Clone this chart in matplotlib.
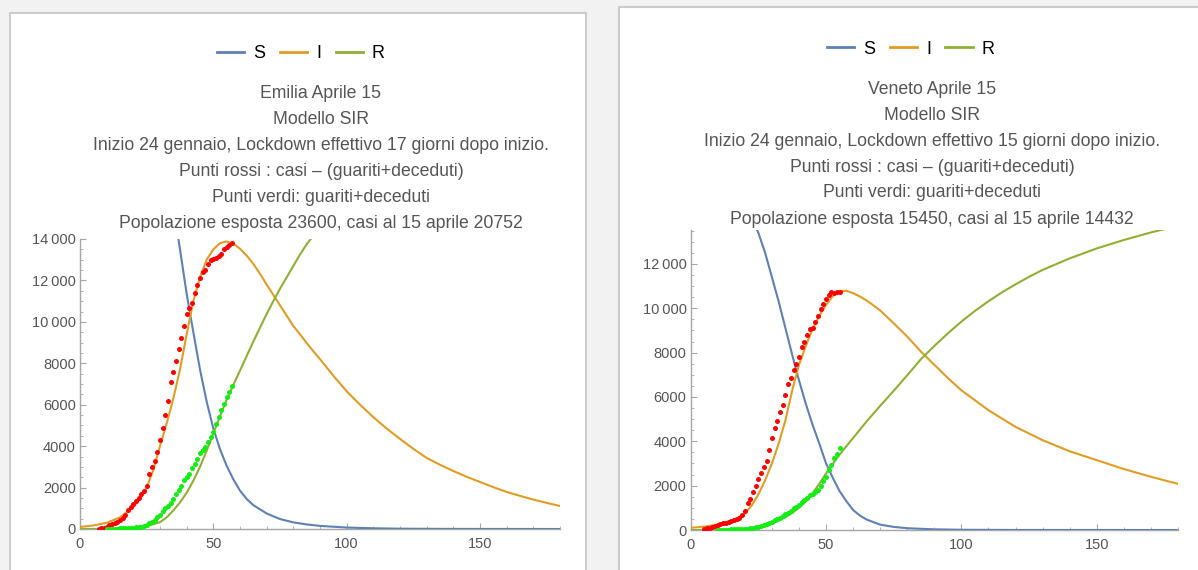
import matplotlib.pyplot as plt
from matplotlib.patches import Rectangle
from matplotlib.lines import Line2D
from matplotlib.ticker import MultipleLocator, FuncFormatter

plt.rcParams['font.family'] = ['Liberation Sans', 'DejaVu Sans']

W, H = 1198, 570

# ---------------- Emilia ----------------
emilia_title = ["Emilia Aprile 15",
                "Modello SIR",
                "Inizio 24 gennaio, Lockdown effettivo 17 giorni dopo inizio.",
                "Punti rossi : casi \u2013 (guariti+deceduti)",
                "Punti verdi: guariti+deceduti",
                "Popolazione esposta 23600, casi al 15 aprile 20752"]

emilia_s_t = [0, 10, 15, 20, 25, 27.5, 30, 32.5, 35, 37.5, 40, 42.5, 45, 47.5, 50, 52.5, 55, 57.5, 60,
              62.5, 65, 70, 75, 80, 85, 90, 100, 110, 120, 135, 150, 180]
emilia_s = [23550, 23300, 22950, 22300, 21000, 20100, 19000, 17500, 15600, 13500, 11350, 9500, 7700, 6150,
            4850, 3850, 3050, 2400, 1850, 1450, 1150, 750, 480, 320, 220, 150, 70, 35, 15, 6, 3, 0]

emilia_i_t = [0, 5, 10, 15, 20, 22.5, 25, 27.5, 30, 32.5, 35, 37.5, 40, 42.5, 45, 47.5, 50, 52.5, 55, 57.5,
              60, 62.5, 65, 67.5, 70, 72.5, 75, 77.5, 80, 82.5, 85, 87.5, 90, 95, 100, 105, 110, 115, 120,
              125, 130, 135, 140, 145, 150, 155, 160, 165, 170, 175, 180]
emilia_i = [100, 170, 300, 560, 1050, 1450, 2000, 2850, 4000, 5100, 6300, 7700, 9400, 11000, 12150, 13000,
            13500, 13800, 13880, 13780, 13530, 13200, 12800, 12320, 11800, 11300, 10800, 10300, 9800, 9400,
            8980, 8580, 8200, 7400, 6650, 6000, 5400, 4850, 4350, 3870, 3430, 3100, 2800, 2520, 2270, 2020,
            1790, 1600, 1420, 1260, 1110]

emilia_r_t = [0, 10, 15, 20, 22.5, 25, 27.5, 30, 32.5, 35, 37.5, 40, 42.5, 45, 47.5, 50, 52.5, 55, 57.5,
              60, 62.5, 65, 67.5, 70, 72.5, 75, 77.5, 80, 82.5, 85, 87.5, 90]
emilia_r = [0, 10, 25, 60, 100, 150, 230, 330, 560, 900, 1280, 1750, 2330, 3000, 3780, 4620, 5450, 6250,
            6950, 7650, 8350, 9050, 9720, 10380, 11000, 11600, 12150, 12700, 13250, 13750, 14150, 14600]

emilia_red_t = list(range(7, 58))
emilia_red = [20, 40, 70, 110, 170, 220, 290, 350, 430, 520, 680, 900, 1080, 1200, 1330, 1500, 1700, 1850,
              2100, 2650, 3000, 3300, 3700, 4300, 4900, 5500, 6200, 7100, 7600, 8100, 8700, 9200, 9800,
              10400, 10650, 10900, 11400, 11800, 12100, 12400, 12500, 12800, 13000, 13030, 13060, 13200,
              13300, 13500, 13600, 13700, 13800]

emilia_green_t = list(range(10, 58))
emilia_green = [0, 5, 10, 15, 20, 25, 30, 40, 50, 60, 70, 80, 95, 110, 150, 190, 270, 340, 430, 590, 700,
                860, 1000, 1120, 1240, 1430, 1680, 1900, 2100, 2350, 2500, 2650, 2950, 3150, 3400, 3650,
                3800, 3950, 4200, 4450, 4700, 5050, 5430, 5750, 6050, 6350, 6600, 6880]

# ---------------- Veneto ----------------
veneto_title = ["Veneto Aprile 15",
                "Modello SIR",
                "Inizio 24 gennaio, Lockdown effettivo 15 giorni dopo inizio.",
                "Punti rossi : casi \u2013 (guariti+deceduti)",
                "Punti verdi: guariti+deceduti",
                "Popolazione esposta 15450, casi al 15 aprile 14432"]

veneto_s_t = [0, 10, 15, 20, 22.5, 25, 27.5, 30, 32.5, 35, 37.5, 40, 42.5, 45, 47.5, 50, 52.5, 55, 57.5,
              60, 62.5, 65, 70, 75, 80, 90, 100, 120, 180]
veneto_s = [15400, 15250, 15000, 14500, 14050, 13400, 12500, 11400, 10300, 9100, 7900, 6750, 5700, 4750,
            3900, 3000, 2350, 1750, 1300, 900, 650, 470, 240, 140, 80, 30, 10, 2, 0]

veneto_i_t = [0, 5, 10, 15, 17.5, 20, 22.5, 25, 27.5, 30, 32.5, 35, 37.5, 40, 42.5, 45, 47.5, 50, 52.5,
              55, 57.5, 60, 62.5, 65, 67.5, 70, 75, 80, 85, 90, 95, 100, 110, 120, 130, 140, 150, 160, 170,
              180]
veneto_i = [100, 150, 250, 430, 560, 750, 1100, 1600, 2250, 3000, 3900, 4950, 6300, 7450, 8300, 9050, 9650,
            10150, 10550, 10780, 10790, 10680, 10530, 10350, 10130, 9900, 9320, 8720, 8050, 7450, 6850, 6300,
            5400, 4650, 4050, 3550, 3150, 2750, 2400, 2080]

veneto_r_t = [0, 10, 15, 20, 25, 27.5, 30, 32.5, 35, 37.5, 40, 42.5, 45, 47.5, 50, 52.5, 55, 57.5, 60, 65,
              70, 75, 80, 85, 90, 95, 100, 105, 110, 115, 120, 125, 130, 140, 150, 160, 170, 180]
veneto_r = [0, 5, 15, 50, 130, 200, 300, 420, 580, 770, 1000, 1300, 1650, 2080, 2550, 2980, 3400, 3780,
            4150, 4900, 5600, 6280, 6980, 7700, 8300, 8870, 9400, 9880, 10320, 10720, 11080, 11420, 11730,
            12250, 12700, 13080, 13420, 13720]

veneto_red_t = list(range(5, 56))
veneto_red = [60, 80, 110, 140, 180, 230, 270, 300, 330, 360, 400, 440, 500, 560, 680, 870, 1200, 1380,
              1700, 2000, 2300, 2550, 2850, 3100, 3600, 4150, 4600, 4900, 5300, 5650, 6100, 6600, 6850,
              7200, 7500, 7800, 8250, 8500, 8800, 9050, 9100, 9400, 9650, 9950, 10200, 10400, 10600,
              10720, 10700, 10720, 10750]

veneto_green_t = list(range(10, 56))
veneto_green = [0, 5, 10, 15, 20, 25, 30, 35, 40, 50, 55, 65, 75, 95, 115, 140, 170, 210, 255, 310, 380,
                440, 480, 540, 620, 720, 780, 850, 970, 1050, 1150, 1260, 1350, 1430, 1560, 1640, 1720,
                1800, 2000, 2200, 2400, 2700, 2950, 3250, 3450, 3690]

C_S, C_I, C_R = '#5E81B5', '#E19C24', '#8FB032'
AX_COL = '#a6a6a6'
TXT_COL = '#555555'


def thousands(v, pos):
    v = int(round(v))
    if v >= 10000:
        return f"{v // 1000}\u2009{v % 1000:03d}"
    return str(v)


fig = plt.figure(figsize=(W / 100, H / 100), dpi=100)
fig.patch.set_facecolor('#f2f2f2')

# white panels with grey border
fig.add_artist(Rectangle((10 / W, -0.02), 576 / W, 1 - 13 / H + 0.02, transform=fig.transFigure,
                         facecolor='white', edgecolor='#cccccc', lw=1.5, zorder=0))
fig.add_artist(Rectangle((619 / W, -0.02), 600 / W, 1 - 7 / H + 0.02, transform=fig.transFigure,
                         facecolor='white', edgecolor='#cccccc', lw=1.5, zorder=0))


def draw_panel(rect, ymax, title, tcx, ty, lcx, ly,
               s_t, s, i_t, i, r_t, r, red_t, red, green_t, green):
    ax = fig.add_axes(rect)
    ax.set_facecolor('none')
    ax.plot(s_t, s, color=C_S, lw=1.5, zorder=3)
    ax.plot(i_t, i, color=C_I, lw=1.5, zorder=3)
    ax.plot(r_t, r, color=C_R, lw=1.5, zorder=3)
    ax.plot(red_t, red, 'o', color='#ff0000', ms=3.6, mec='none', zorder=4)
    ax.plot(green_t, green, 'o', color='#11ee11', ms=3.6, mec='none', zorder=4)
    ax.set_xlim(0, 180)
    ax.set_ylim(0, ymax)
    for sp in ['top', 'right']:
        ax.spines[sp].set_visible(False)
    for sp in ['left', 'bottom']:
        ax.spines[sp].set_color(AX_COL)
        ax.spines[sp].set_linewidth(1.0)
    ax.xaxis.set_major_locator(MultipleLocator(50))
    ax.xaxis.set_minor_locator(MultipleLocator(10))
    ax.yaxis.set_major_locator(MultipleLocator(2000))
    ax.yaxis.set_minor_locator(MultipleLocator(500))
    ax.yaxis.set_major_formatter(FuncFormatter(thousands))
    ax.tick_params(which='both', direction='in', color=AX_COL, labelcolor=TXT_COL, labelsize=10.5)
    ax.tick_params(which='major', length=4, width=0.8)
    ax.tick_params(axis='y', which='major', pad=3)
    ax.tick_params(axis='x', which='major', pad=6)
    ax.tick_params(which='minor', length=2, width=0.6)

    for k, line in enumerate(title):
        fig.text(tcx / W, 1 - (ty + 26 * k) / H, line, ha='center', va='center',
                 fontsize=12.7, color=TXT_COL)

    handles = [Line2D([], [], color=c, lw=2) for c in (C_S, C_I, C_R)]
    fig.legend(handles, ['S', 'I', 'R'], loc='center', bbox_to_anchor=(lcx / W, 1 - ly / H),
               ncol=3, frameon=False, fontsize=13, handlelength=1.5, handletextpad=0.5,
               columnspacing=0.8)
    return ax


draw_panel([80 / W, 41 / H, 480 / W, 290 / H], 14000, emilia_title, 321, 93, 301, 54,
           emilia_s_t, emilia_s, emilia_i_t, emilia_i, emilia_r_t, emilia_r,
           emilia_red_t, emilia_red, emilia_green_t, emilia_green)

draw_panel([690.7 / W, 40 / H, 487.3 / W, 300 / H], 13530, veneto_title, 932, 89, 911, 49,
           veneto_s_t, veneto_s, veneto_i_t, veneto_i, veneto_r_t, veneto_r,
           veneto_red_t, veneto_red, veneto_green_t, veneto_green)

fig.savefig('out.png', dpi=100, facecolor=fig.get_facecolor())
